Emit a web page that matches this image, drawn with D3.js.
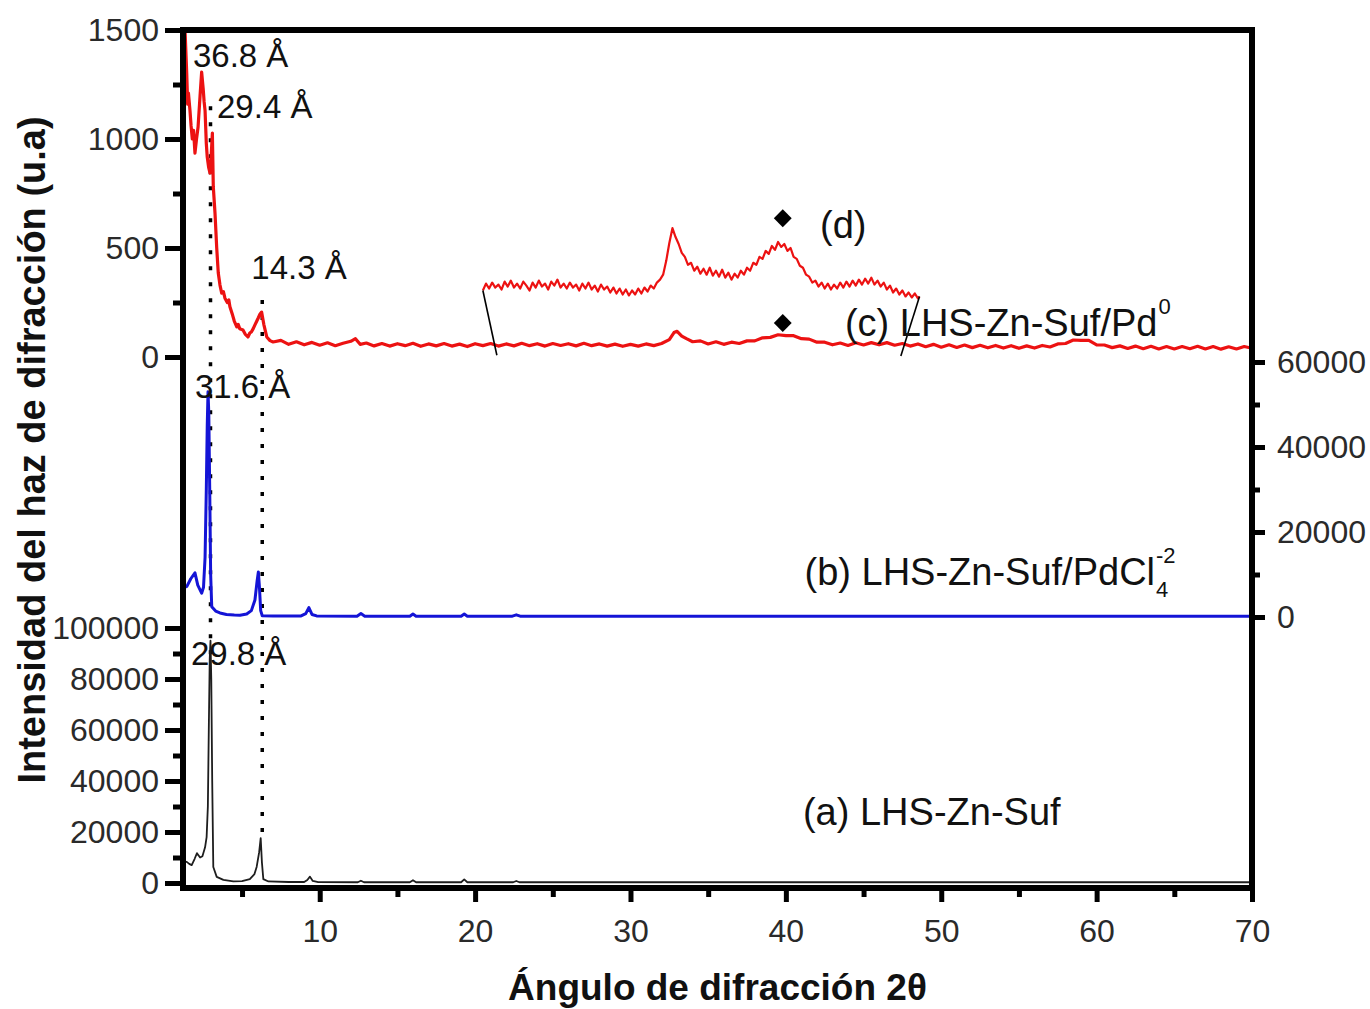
<!DOCTYPE html>
<html>
<head>
<meta charset="utf-8">
<script src="https://cdn.jsdelivr.net/npm/d3@7"></script>
<style>
  body { margin: 0; background: #fff; }
  svg { display: block; font-family: "Liberation Sans", Arial, sans-serif; }
</style>
</head>
<body>
<div id="chart"></div>
<script>
// (a) LHS-Zn-Suf, lower left axis
const seriesA = [
  [1.2, 8500], [1.44, 8300], [1.6, 7500], [1.76, 7000], [1.95, 9500], [2.1, 11700], [2.3, 10000],
  [2.45, 10500], [2.62, 14000], [2.72, 18000], [2.8, 30000], [2.86, 60000], [2.92, 88000], [2.97, 95000],
  [3.02, 80000], [3.08, 40000], [3.15, 6300], [3.37, 2400], [3.8, 1200], [4.44, 600], [5.0, 700],
  [5.5, 1500], [5.8, 3500], [5.94, 6300], [6.1, 12000], [6.2, 17600], [6.28, 8000], [6.37, 1500],
  [6.7, 600], [8, 400], [9.0, 400], [9.2, 1200], [9.37, 2500], [9.55, 800], [9.9, 350],
  [12.45, 300], [12.65, 900], [12.85, 300], [15.8, 300], [16.0, 1100], [16.2, 300],
  [19.1, 300], [19.3, 1400], [19.5, 300], [22.45, 300], [22.65, 800], [22.85, 300], [70, 300]
]

// (b) LHS-Zn-Suf/PdCl4, right axis
const seriesB = [
  [1.2, 6800], [1.45, 7200], [1.7, 9000], [1.97, 10400], [2.15, 7500], [2.4, 5600], [2.52, 7000],
  [2.62, 14000], [2.7, 30000], [2.76, 45000], [2.81, 53000], [2.86, 48000], [2.92, 30000],
  [2.98, 10000], [3.05, 2400], [3.3, 1400], [3.58, 950], [4.0, 600], [4.5, 450], [4.87, 400],
  [5.3, 700], [5.6, 1500], [5.83, 4000], [5.97, 8500], [6.05, 10600], [6.12, 7000], [6.2, 1500],
  [6.3, 300], [7, 250], [8.8, 250], [9.1, 800], [9.3, 2200], [9.5, 600], [9.8, 250],
  [12.4, 200], [12.65, 800], [12.9, 200], [15.8, 200], [16.0, 700], [16.2, 200],
  [19.1, 200], [19.3, 700], [19.5, 200], [22.4, 200], [22.65, 500], [22.9, 200], [70, 200]
]

// (c) LHS-Zn-Suf/Pd0, upper left axis
const seriesC = [
  [1.2, 1700], [1.33, 1500], [1.44, 1300], [1.5, 1160], [1.55, 1210], [1.65, 1130], [1.72, 1060],
  [1.8, 1000], [1.88, 1040], [1.97, 935], [2.07, 1000], [2.17, 1055], [2.3, 1200], [2.4, 1307],
  [2.5, 1230], [2.56, 1170], [2.62, 1130], [2.7, 980], [2.76, 917], [2.85, 870], [2.94, 844],
  [3.02, 930], [3.09, 1027], [3.15, 780], [3.26, 660], [3.37, 500], [3.47, 385], [3.58, 330],
  [3.69, 293], [3.8, 300], [3.9, 270], [4.05, 250], [4.15, 262], [4.22, 230], [4.4, 190],
  [4.5, 165], [4.66, 138], [4.75, 150], [4.85, 130], [5.06, 124], [5.2, 105], [5.38, 92],
  [5.5, 110], [5.6, 115], [5.72, 130], [5.83, 147], [5.95, 165], [6.05, 180], [6.15, 196],
  [6.26, 206], [6.4, 150], [6.59, 92], [6.8, 75],
  [7.0, 69], [7.5, 76], [8.0, 58], [8.5, 70], [9.0, 56], [9.5, 67], [10.0, 54], [10.5, 65],
  [11.0, 52], [11.5, 63], [12.0, 72], [12.3, 84], [12.6, 58], [13.0, 64], [13.5, 51], [14.0, 62],
  [14.5, 50], [15.0, 61], [15.5, 52], [16.0, 63], [16.5, 49], [17.0, 60], [17.5, 51], [18.0, 62],
  [18.5, 50], [19.0, 59], [19.5, 48], [20.0, 61], [20.5, 52], [21.0, 62], [21.5, 50], [22.0, 60],
  [22.5, 51], [23.0, 63], [23.5, 52], [24.0, 61], [24.5, 50], [25.0, 62], [25.5, 53], [26.0, 61],
  [26.5, 51], [27.0, 63], [27.5, 52], [28.0, 60], [28.5, 50], [29.0, 59], [29.5, 49], [30.0, 58],
  [30.5, 50], [31.0, 60], [31.5, 52], [32.0, 62], [32.5, 80], [32.8, 112], [33.0, 118], [33.3, 96],
  [33.6, 84], [34.0, 70], [34.5, 74], [35.0, 60], [35.5, 70], [36.0, 58], [36.5, 68], [37.0, 62],
  [37.5, 74], [38.0, 74], [38.5, 88], [39.0, 90], [39.5, 102], [40.0, 98], [40.5, 98], [41.0, 84],
  [41.5, 82], [42.0, 68], [42.5, 68], [43.0, 56], [43.5, 64], [44.0, 53], [44.5, 65], [45.0, 55],
  [45.5, 66], [46.0, 56], [46.5, 66], [47.0, 54], [47.5, 62], [48.0, 50], [48.5, 60], [49.0, 47],
  [49.5, 58], [50.0, 45], [50.5, 56], [51.0, 44], [51.5, 55], [52.0, 43], [52.5, 54], [53.0, 42],
  [53.5, 53], [54.0, 41], [54.5, 52], [55.0, 40], [55.5, 51], [56.0, 41], [56.5, 53], [57.0, 46],
  [57.5, 60], [58.0, 62], [58.5, 78], [59.0, 76], [59.5, 76], [60.0, 56], [60.5, 55], [61.0, 43],
  [61.5, 51], [62.0, 39], [62.5, 50], [63.0, 38], [63.5, 49], [64.0, 37], [64.5, 48], [65.0, 37],
  [65.5, 48], [66.0, 38], [66.5, 49], [67.0, 37], [67.5, 48], [68.0, 36], [68.5, 47], [69.0, 37],
  [69.5, 48], [70.0, 40]
]

// (d) magnified part of (c), inset axis
const seriesD = [
  [20.5, 52], [20.7, 59], [20.9, 54], [21.1, 60], [21.3, 55], [21.5, 58], [21.7, 53], [21.9, 61],
  [22.1, 56], [22.3, 62], [22.5, 55], [22.7, 59], [22.9, 54], [23.1, 61], [23.3, 57], [23.5, 52],
  [23.7, 60], [23.9, 55], [24.1, 62], [24.3, 56], [24.5, 59], [24.7, 53], [24.9, 61], [25.1, 57],
  [25.3, 63], [25.5, 55], [25.7, 59], [25.9, 54], [26.1, 60], [26.3, 55], [26.5, 58], [26.7, 52],
  [26.9, 59], [27.1, 54], [27.3, 60], [27.5, 53], [27.7, 57], [27.9, 51], [28.1, 58], [28.3, 53],
  [28.5, 56], [28.7, 50], [28.9, 55], [29.1, 49], [29.3, 54], [29.5, 48], [29.7, 53], [29.9, 47],
  [30.1, 52], [30.3, 48], [30.5, 54], [30.7, 49], [30.9, 55], [31.1, 51], [31.3, 57], [31.5, 54],
  [31.7, 60], [31.9, 63], [32.1, 68], [32.3, 82], [32.5, 100], [32.7, 115], [32.9, 106], [33.1, 99],
  [33.3, 90], [33.5, 86], [33.7, 78], [33.9, 80], [34.1, 72], [34.3, 76], [34.5, 69], [34.7, 74],
  [34.9, 68], [35.1, 75], [35.3, 67], [35.5, 72], [35.7, 66], [35.9, 73], [36.1, 65], [36.3, 70],
  [36.5, 63], [36.7, 69], [36.9, 65], [37.1, 72], [37.3, 68], [37.5, 75], [37.7, 72], [37.9, 80],
  [38.1, 78], [38.3, 86], [38.5, 84], [38.7, 92], [38.9, 89], [39.1, 97], [39.3, 93], [39.5, 101],
  [39.7, 96], [39.9, 99], [40.1, 92], [40.3, 95], [40.5, 86], [40.7, 84], [40.9, 77], [41.1, 75],
  [41.3, 68], [41.5, 66], [41.7, 60], [41.9, 62], [42.1, 56], [42.3, 60], [42.5, 54], [42.7, 59],
  [42.9, 53], [43.1, 58], [43.3, 54], [43.5, 60], [43.7, 55], [43.9, 61], [44.1, 56], [44.3, 62],
  [44.5, 57], [44.7, 63], [44.9, 58], [45.1, 64], [45.3, 59], [45.5, 65], [45.7, 58], [45.9, 62],
  [46.1, 56], [46.3, 60], [46.5, 53], [46.7, 57], [46.9, 50], [47.1, 54], [47.3, 48], [47.5, 52],
  [47.7, 46], [47.9, 50], [48.1, 45], [48.3, 49], [48.5, 44], [48.6, 46]
]

// inset links: [2θ on inset, inset value, 2θ on (c), (c) value]
const insetLinks = [[20.5, 52, 21.4, 8], [48.6, 46, 47.4, 5]]

const xTicks = [10, 20, 30, 40, 50, 60, 70]
const xMinor = [5, 15, 25, 35, 45, 55, 65]
const cTicks = [0, 500, 1000, 1500]
const cMinor = [250, 750, 1250]
const aTicks = [0, 20000, 40000, 60000, 80000, 100000]
const aMinor = [10000, 30000, 50000, 70000, 90000]
const bTicks = [0, 20000, 40000, 60000]
const bMinor = [10000, 30000, 50000]

// d-spacing guides: 2θ, top value on (c), bottom value on (a)
const guides = [[2.97, 1150, 89000], [6.3, 262, 19500]]

const width = 1370
const height = 1009
const mLeft = 183
const mRight = 1252
const mTop = 30
const mBottom = 888

const svg = d3.select('#chart').append('svg')
  .attr('width', width)
  .attr('height', height)

const x = d3.scaleLinear().domain([1.2, 70]).range([mLeft, mRight])
const yC = d3.scaleLinear().domain([0, 1500]).range([357, mTop])
const yB = d3.scaleLinear().domain([0, 60000]).range([617, 362])
const yA = d3.scaleLinear().domain([0, 100000]).range([883, 628])
const yD = d3.scaleLinear().domain([0, 100]).range([342, 243])

svg.append('clipPath').attr('id', 'plot')
  .append('rect')
  .attr('x', mLeft).attr('y', mTop)
  .attr('width', mRight - mLeft).attr('height', mBottom - mTop)

const styleAxis = (g, size) => {
  g.select('.domain').remove()
  g.selectAll('.tick line').attr('stroke', '#000').attr('stroke-width', 5)
  g.selectAll('.tick text').attr('font-size', size).attr('fill', '#2a2a2a')
}

const addAxis = (axis, transform) => svg.append('g')
  .attr('transform', transform)
  .call(axis)
  .call(g => styleAxis(g, 32))

const fmt = d3.format('d')

addAxis(d3.axisLeft(yC).tickValues(cTicks).tickSize(18).tickPadding(6).tickFormat(fmt), `translate(${mLeft},0)`)
addAxis(d3.axisLeft(yC).tickValues(cMinor).tickSize(10).tickFormat(''), `translate(${mLeft},0)`)
addAxis(d3.axisLeft(yA).tickValues(aTicks).tickSize(18).tickPadding(6).tickFormat(fmt), `translate(${mLeft},0)`)
addAxis(d3.axisLeft(yA).tickValues(aMinor).tickSize(10).tickFormat(''), `translate(${mLeft},0)`)
addAxis(d3.axisRight(yB).tickValues(bTicks).tickSize(13).tickPadding(12).tickFormat(fmt), `translate(${mRight},0)`)
addAxis(d3.axisRight(yB).tickValues(bMinor).tickSize(8).tickFormat(''), `translate(${mRight},0)`)
addAxis(d3.axisBottom(x).tickValues(xTicks).tickSize(14).tickPadding(17).tickFormat(fmt), `translate(0,${mBottom})`)
addAxis(d3.axisBottom(x).tickValues(xMinor).tickSize(9).tickFormat(''), `translate(0,${mBottom})`)

const plot = svg.append('g').attr('clip-path', 'url(#plot)')

// dotted guides
plot.selectAll('.guide')
  .data(guides)
  .enter().append('line')
  .attr('class', 'guide')
  .attr('x1', d => x(d[0])).attr('x2', d => x(d[0]))
  .attr('y1', d => yC(d[1])).attr('y2', d => yA(d[2]))
  .attr('stroke', '#000')
  .attr('stroke-width', 3.5)
  .attr('stroke-dasharray', '4,12')

const drawLine = (data, y, color, w) => plot.append('path')
  .datum(data)
  .attr('fill', 'none')
  .attr('stroke', color)
  .attr('stroke-width', w)
  .attr('stroke-linejoin', 'round')
  .attr('d', d3.line().x(d => x(d[0])).y(d => y(d[1])))

drawLine(seriesA, yA, '#1e1e1e', 1.8)
drawLine(seriesB, yB, '#1414d6', 3)
drawLine(seriesC, yC, '#ec1212', 3.2)
drawLine(seriesD, yD, '#ec1212', 2.2)

plot.selectAll('.link')
  .data(insetLinks)
  .enter().append('line')
  .attr('x1', d => x(d[0])).attr('y1', d => yD(d[1]))
  .attr('x2', d => x(d[2])).attr('y2', d => yC(d[3]))
  .attr('stroke', '#000')
  .attr('stroke-width', 1.6)

// diamonds over the Pd(111) peak
const markers = [[39.8, yD, 125], [39.8, yC, 156]]
svg.selectAll('.mark')
  .data(markers)
  .enter().append('path')
  .attr('d', d3.symbol().type(d3.symbolSquare).size(160))
  .attr('transform', d => `translate(${x(d[0])},${d[1](d[2])}) rotate(45)`)
  .attr('fill', '#000')

// frame
svg.append('rect')
  .attr('x', mLeft).attr('y', mTop)
  .attr('width', mRight - mLeft).attr('height', mBottom - mTop)
  .attr('fill', 'none')
  .attr('stroke', '#000')
  .attr('stroke-width', 6)

// peak annotations
const peakLabels = [
  ['36.8 Å', 1.84, yC, 1330],
  ['29.4 Å', 3.39, yC, 1096],
  ['14.3 Å', 5.6, yC, 358],
  ['31.6 Å', 1.97, yB, 51500],
  ['29.8 Å', 1.71, yA, 85500]
]
svg.selectAll('.peak')
  .data(peakLabels)
  .enter().append('text')
  .attr('x', d => x(d[1]))
  .attr('y', d => d[2](d[3]))
  .attr('font-size', 33)
  .attr('fill', '#111')
  .text(d => d[0])

// series labels
const seriesLabel = (txt, xv, y, v, sup, sub) => {
  const t = svg.append('text')
    .attr('x', x(xv)).attr('y', y(v))
    .attr('font-size', 38)
    .attr('fill', '#111')
    .text(txt)
  const end = x(xv) + t.node().getComputedTextLength() + 1
  if (sup) {
    svg.append('text').attr('x', end).attr('y', y(v) - 22)
      .attr('font-size', 22).attr('fill', '#111').text(sup)
  }
  if (sub) {
    svg.append('text').attr('x', end).attr('y', y(v) + 12)
      .attr('font-size', 22).attr('fill', '#111').text(sub)
  }
}
seriesLabel('(d)', 42.2, yD, 105)
seriesLabel('(c) LHS-Zn-Suf/Pd', 43.8, yC, 95, '0')
seriesLabel('(b) LHS-Zn-Suf/PdCl', 41.2, yB, 7500, '-2', '4')
seriesLabel('(a) LHS-Zn-Suf', 41.1, yA, 22700)

// axis titles
svg.append('text')
  .attr('x', (mLeft + mRight) / 2)
  .attr('y', 1000)
  .attr('text-anchor', 'middle')
  .attr('font-size', 37)
  .attr('font-weight', 'bold')
  .attr('fill', '#111')
  .text('Ángulo de difracción 2θ')

svg.append('text')
  .attr('transform', 'translate(45,450) rotate(-90)')
  .attr('text-anchor', 'middle')
  .attr('font-size', 38)
  .attr('font-weight', 'bold')
  .attr('fill', '#111')
  .text('Intensidad del haz de difracción (u.a)')
</script>
</body>
</html>
